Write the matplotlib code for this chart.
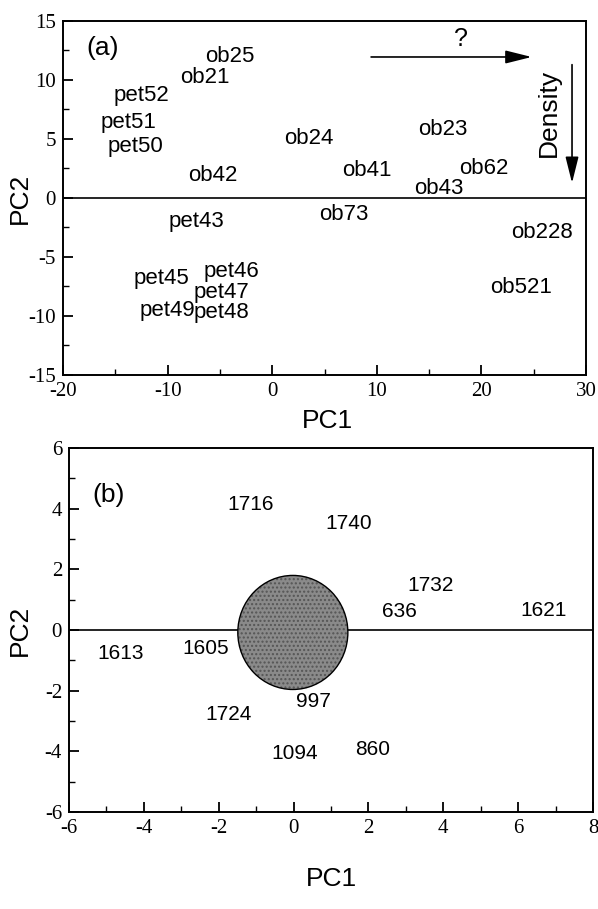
import matplotlib
matplotlib.use("Agg")
import matplotlib.pyplot as plt
from matplotlib.patches import Ellipse
from matplotlib.ticker import MultipleLocator

plt.rcParams["font.family"] = ["Liberation Sans", "DejaVu Sans"]
plt.rcParams["axes.unicode_minus"] = False

# (a) sample scores on the first two components
samples_a = ["ob25", "ob21", "pet52", "pet51", "pet50", "ob42", "ob24", "ob23",
             "ob41", "ob62", "ob43", "pet43", "ob73", "ob228", "ob521",
             "pet45", "pet46", "pet47", "pet49", "pet48"]
pc1_a = [-4.1, -6.4, -12.5, -13.7, -13.1, -5.7, 3.5, 16.3,
         9.0, 20.2, 15.9, -7.2, 6.8, 25.8, 23.8,
         -10.6, -3.9, -4.9, -10.0, -4.9]
pc2_a = [12.0, 10.2, 8.7, 6.4, 4.4, 1.9, 5.0, 5.8,
         2.3, 2.5, 0.8, -2.0, -1.4, -2.9, -7.6,
         -6.8, -6.2, -8.0, -9.5, -9.7]

# (b) wavenumber scores
bands_b = ["1716", "1740", "1732", "636", "1621", "1613", "1605",
           "997", "1724", "1094", "860"]
pc1_b = [-1.16, 1.48, 3.67, 2.83, 6.68, -4.62, -2.36,
         0.52, -1.73, 0.02, 2.11]
pc2_b = [4.15, 3.50, 1.47, 0.62, 0.64, -0.77, -0.60,
         -2.36, -2.80, -4.06, -3.93]

# grey zone around the origin in (b)
zone_center = (-0.02, -0.08)
zone_width = 2.94
zone_height = 3.76


def style_axes(ax, xmaj, xmin, ymaj, ymin):
    ax.xaxis.set_major_locator(MultipleLocator(xmaj))
    ax.xaxis.set_minor_locator(MultipleLocator(xmin))
    ax.yaxis.set_major_locator(MultipleLocator(ymaj))
    ax.yaxis.set_minor_locator(MultipleLocator(ymin))
    ax.tick_params(which="major", direction="in", length=7, width=1.3, pad=5,
                   labelsize=15, labelfontfamily="Liberation Serif")
    ax.tick_params(which="minor", direction="in", length=4, width=1.0)
    for sp in ax.spines.values():
        sp.set_linewidth(1.4)
    ax.axhline(0, color="black", lw=1.2, zorder=1)


fig = plt.figure(figsize=(5.98, 9.09), dpi=100)

# panel (a)
ax1 = fig.add_axes([0.1054, 0.5875, 0.8746, 0.3894])
ax1.set_xlim(-20, 30)
ax1.set_ylim(-15, 15)
style_axes(ax1, 10, 5, 5, 2.5)
for name, x, y in zip(samples_a, pc1_a, pc2_a):
    ax1.text(x, y, name, ha="center", va="center", fontsize=16)
ax1.text(-16.2, 12.7, "(a)", ha="center", va="center", fontsize=19)
ax1.annotate("", xy=(24.8, 11.95), xytext=(9.45, 11.95),
             arrowprops=dict(arrowstyle="-|>,head_length=0.8,head_width=0.2",
                             lw=1.2, color="black", mutation_scale=20,
                             shrinkA=0, shrinkB=0))
ax1.text(18.05, 13.5, "?", ha="center", va="center", fontsize=18)
ax1.annotate("", xy=(28.66, 1.27), xytext=(28.66, 11.3),
             arrowprops=dict(arrowstyle="-|>,head_length=0.8,head_width=0.2",
                             lw=1.2, color="black", mutation_scale=20,
                             shrinkA=0, shrinkB=0))
ax1.text(26.4, 7.2, "Density", ha="center", va="center", rotation=90, fontsize=19)
ax1.set_xlabel("PC1", fontsize=19)
ax1.set_ylabel("PC2", fontsize=19)
ax1.xaxis.set_label_coords(0.505, -0.095)
ax1.yaxis.set_label_coords(-0.06, 0.5)

# panel (b)
ax2 = fig.add_axes([0.1154, 0.1067, 0.8763, 0.4004])
ax2.set_xlim(-6, 8)
ax2.set_ylim(-6, 6)
style_axes(ax2, 2, 1, 2, 1)
ax2.add_patch(Ellipse(zone_center, zone_width, zone_height, facecolor="#8a8a8a",
                      edgecolor="#555555", hatch="....", lw=0, zorder=2))
ax2.add_patch(Ellipse(zone_center, zone_width, zone_height, facecolor="none",
                      edgecolor="black", lw=1.0, zorder=3))
for name, x, y in zip(bands_b, pc1_b, pc2_b):
    ax2.text(x, y, name, ha="center", va="center", fontsize=15)
ax2.text(-4.93, 4.44, "(b)", ha="center", va="center", fontsize=19)
ax2.set_xlabel("PC1", fontsize=19)
ax2.set_ylabel("PC2", fontsize=19)
ax2.xaxis.set_label_coords(0.5, -0.15)
ax2.yaxis.set_label_coords(-0.07, 0.5)

fig.savefig("out.png", dpi=100)
